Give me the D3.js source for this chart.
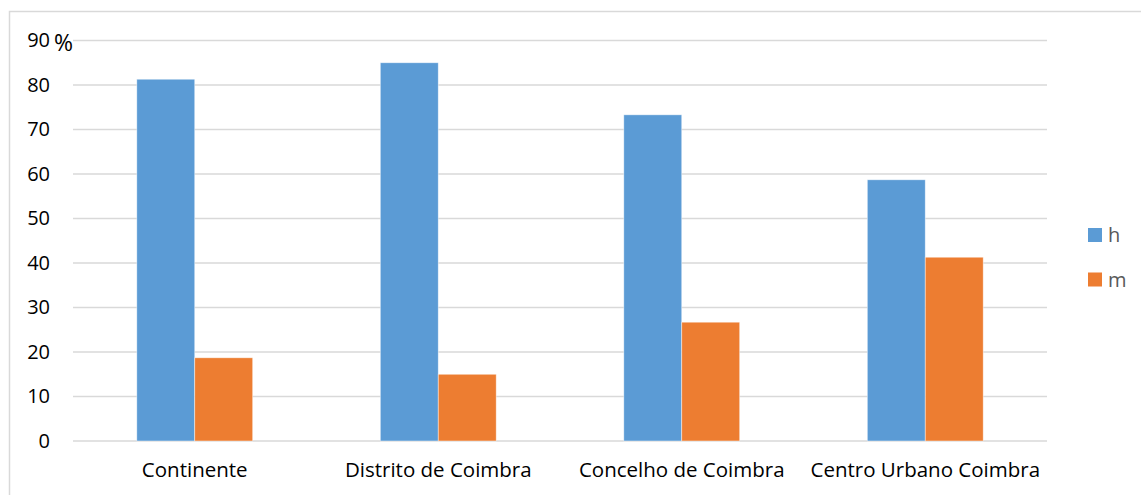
<!DOCTYPE html>
<html><head><meta charset="utf-8">
<script src="https://cdn.jsdelivr.net/npm/d3@7"></script>
<style>body{margin:0;background:#fff}svg{display:block;font-family:"Open Sans","Liberation Sans",sans-serif}</style>
</head><body><svg id="c" width="1141" height="495"></svg>
<script>
const categories = ["Continente", "Distrito de Coimbra", "Concelho de Coimbra", "Centro Urbano Coimbra"];
const series = ["h", "m"];
const hValues = [81.3, 85.0, 73.3, 58.7];
const mValues = [18.7, 15.0, 26.7, 41.3];
const yTicks = [0, 10, 20, 30, 40, 50, 60, 70, 80, 90];
const colors = ["#5B9BD5", "#ED7D31"];

const svg = d3.select("#c");
const W = 1141, H = 495;
const m = {left: 73, right: 1047, top: 40.5, bottom: 441};

svg.append("rect").attr("x", 9.5).attr("y", 11.5).attr("width", W + 10).attr("height", H + 10)
  .attr("fill", "none").attr("stroke", "#d9d9d9").attr("stroke-width", 1.5);

const x0 = d3.scaleBand().domain(categories).range([m.left, m.right]).padding(0);
const groupFrac = 0.476;
const x1 = d3.scaleBand().domain(series)
  .range([x0.bandwidth() * (1 - groupFrac) / 2, x0.bandwidth() * (1 + groupFrac) / 2]).padding(0);
const y = d3.scaleLinear().domain([0, 90]).range([m.bottom, m.top]);

// gridlines
svg.append("g").selectAll("line").data(yTicks).join("line")
  .attr("x1", m.left).attr("x2", m.right)
  .attr("y1", d => y(d)).attr("y2", d => y(d))
  .attr("stroke", "#d9d9d9").attr("stroke-width", 1.5);

// y labels
const yAxis = d3.axisLeft(y).tickValues(yTicks).tickSize(0).tickPadding(0);
const ya = svg.append("g").attr("transform", `translate(50,0)`).call(yAxis);
ya.select(".domain").remove();
ya.selectAll("text").attr("font-size", 20).attr("fill", "#000").attr("font-family", "Open Sans, sans-serif");
svg.append("text").attr("x", 54).attr("y", y(90) + 10).attr("font-size", 23).attr("fill", "#000").text("%");

// bars
const data = categories.map((c, i) => ({c, vals: [hValues[i], mValues[i]]}));
const g = svg.append("g").selectAll("g").data(data).join("g")
  .attr("transform", d => `translate(${x0(d.c)},0)`);
g.selectAll("rect").data(d => d.vals.map((v, j) => ({s: series[j], v, j}))).join("rect")
  .attr("x", d => x1(d.s)).attr("width", x1.bandwidth())
  .attr("y", d => y(d.v)).attr("height", d => y(0) - y(d.v))
  .attr("fill", d => colors[d.j]).attr("stroke", "#fff").attr("stroke-width", 0.75).attr("stroke-opacity", 0.6);

// x labels
const xAxis = d3.axisBottom(x0).tickSize(0).tickPadding(0);
const xa = svg.append("g").attr("transform", `translate(0,${m.bottom + 21})`).call(xAxis);
xa.select(".domain").remove();
xa.selectAll("text").attr("font-size", 20.5).attr("fill", "#000").attr("dy", "0.71em").attr("font-family", "Open Sans, sans-serif");

// legend
const lg = svg.append("g").selectAll("g").data(series).join("g")
  .attr("transform", (d, i) => `translate(1088,${228 + i * 44.5})`);
lg.append("rect").attr("width", 14).attr("height", 14).attr("fill", (d, i) => colors[i]);
lg.append("text").attr("x", 20).attr("y", 7).attr("dy", "0.35em").attr("font-size", 20).attr("fill", "#595959").text(d => d);
</script></body></html>
